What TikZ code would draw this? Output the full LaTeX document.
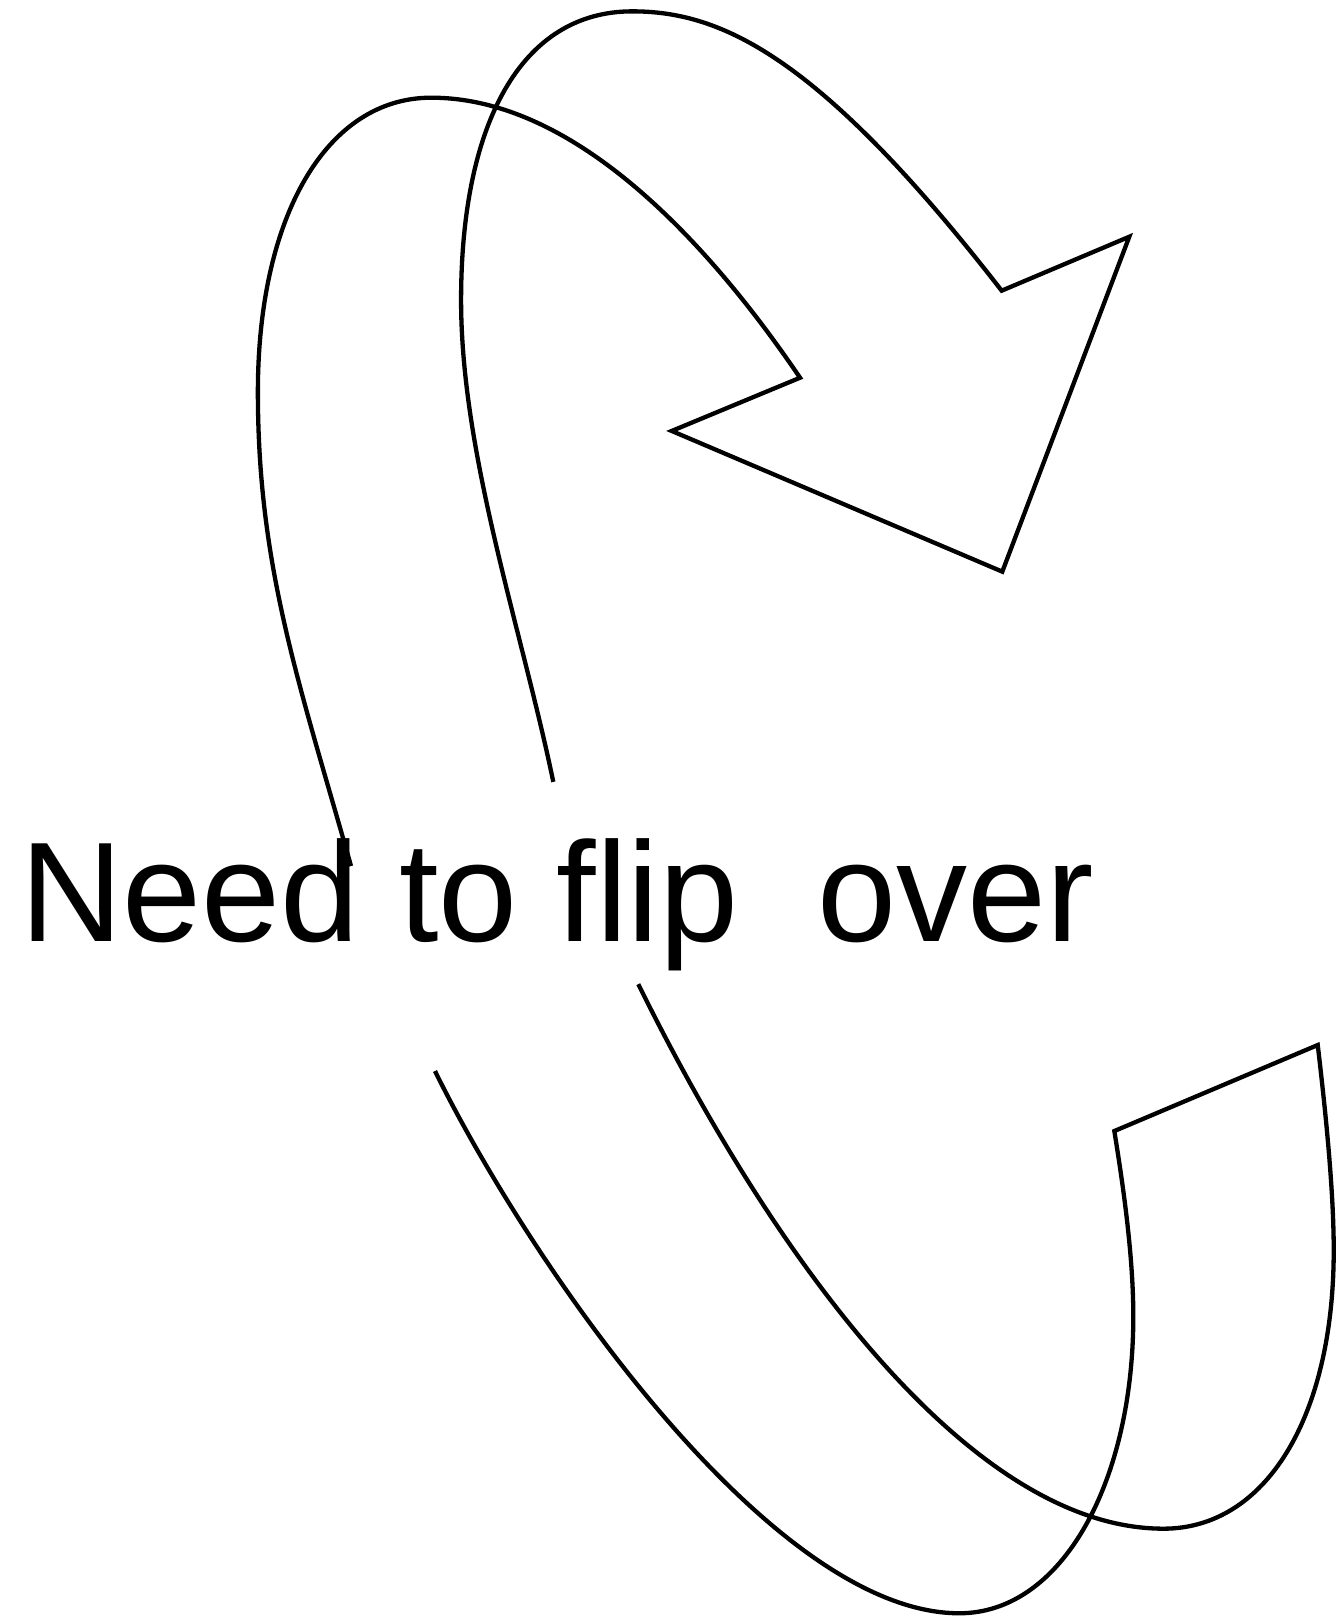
\documentclass[tikz,border=0pt]{standalone}
\usepackage{fontspec}
\setmainfont{Liberation Sans}
\begin{document}
\begin{tikzpicture}[x=1.0315pt,y=-1.0315pt,
  band/.style={line width=4.3pt, line join=miter, black},
  caption/.style={anchor=base west, inner sep=0pt, font=\fontsize{142}{142}\selectfont}]
\useasboundingbox (0,0) rectangle (1301,1568.6);

% upper arrow: inner edge, head, outer edge
\coordinate (uiS) at (340.3,839.6);
\coordinate (uiL) at (250,380);
\coordinate (uiT) at (418,94.7);
\coordinate (hA) at (775.6,366.2);
\coordinate (hB) at (651.2,417.8);
\coordinate (hTip) at (971.7,554.2);
\coordinate (hC) at (1094.8,229.5);
\coordinate (hD) at (971.1,281.8);
\coordinate (uoT) at (613,11);
\coordinate (uoL) at (447,291);
\coordinate (uoE) at (536.4,758);

\draw[band] (uiS) .. controls (290,662) and (250,550) .. (uiL)
  .. controls (250,209) and (317,94.7) .. (uiT)
  .. controls (560,94.7) and (690,240) .. (hA)
  -- (hB) -- (hTip) -- (hC) -- (hD)
  .. controls (795,55) and (700,11) .. (uoT)
  .. controls (505,11) and (447,120) .. (uoL)
  .. controls (447,441) and (506,611) .. (uoE);

% lower arrow: outer edge, tail, inner edge
\coordinate (lbP) at (421.7,1038.3);
\coordinate (lbB) at (930,1564);
\coordinate (lbR) at (1098.7,1276);
\coordinate (tC) at (1080.3,1096.5);
\coordinate (tD) at (1277.5,1013.1);
\coordinate (laR) at (1293,1212);
\coordinate (laB) at (1128,1482);
\coordinate (laF) at (618.8,954.1);

\draw[band] (lbP) .. controls (510,1218) and (745,1564) .. (lbB)
  .. controls (1030,1564) and (1098.7,1436) .. (lbR)
  .. controls (1098.7,1216) and (1088.3,1146) .. (tC)
  -- (tD)
  .. controls (1284.5,1072.7) and (1293,1152) .. (laR)
  .. controls (1293,1374) and (1227,1482) .. (laB)
  .. controls (930,1482) and (735,1190) .. (laF);

\node[caption] (label) at (19.5,913) {Need to flip~ over};
\end{tikzpicture}
\end{document}
